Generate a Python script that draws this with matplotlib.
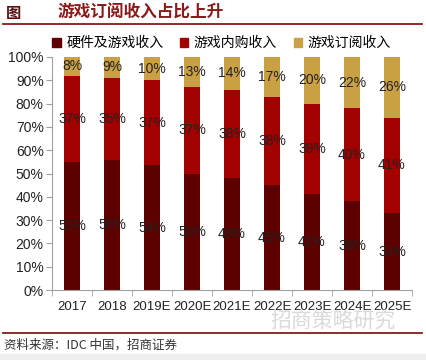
import numpy as np
import matplotlib.pyplot as plt
from matplotlib.patches import Patch, Rectangle
from matplotlib.lines import Line2D

plt.rcParams['font.family'] = ['Liberation Sans', 'Noto Sans CJK SC', 'DejaVu Sans']

# datos (%)
years = ["2017", "2018", "2019E", "2020E", "2021E", "2022E", "2023E", "2024E", "2025E"]
hardware = [55, 56, 54, 50, 48, 45, 41, 38, 33]
inapp = [37, 35, 37, 37, 38, 38, 39, 40, 41]
subs = [8, 9, 10, 13, 14, 17, 20, 22, 26]
series_names = ["硬件及游戏收入", "游戏内购收入", "游戏订阅收入"]
colors = ["#5c0000", "#a30000", "#c9a043"]

fig = plt.figure(figsize=(4.26, 3.6), dpi=100)
ax = fig.add_axes([52/426, 1-290/360, 360/426, 233/360])

x = np.arange(len(years))
vals = np.array([hardware, inapp, subs], dtype=float)
tot = vals.sum(axis=0)
heights = vals / tot * 100  # normalizado a 100%

bottom = np.zeros(len(years))
for k in range(3):
    ax.bar(x, heights[k], width=0.42, bottom=bottom, color=colors[k])
    for i in range(len(years)):
        ax.text(x[i], bottom[i] + heights[k][i] / 2, f"{int(vals[k][i])}%",
                ha="center", va="center", fontsize=10, color="#222222")
    bottom += heights[k]

ax.set_xlim(-0.5, len(years) - 0.5)
ax.set_ylim(0, 100)
ax.set_yticks(np.arange(0, 101, 10))
ax.set_yticklabels([f"{v}%" for v in range(0, 101, 10)], fontsize=10, color="#222222")
ax.set_xticks(x)
ax.set_xticklabels(years, fontsize=9.5, color="#222222")
ax.set_xticks(np.arange(-0.5, len(years)), minor=True)
ax.tick_params(axis="x", which="major", length=0, pad=8)
ax.tick_params(axis="x", which="minor", length=4, color="#a0a0a0")
ax.tick_params(axis="y", length=4, color="#a0a0a0", pad=2)
for s in ["top", "right"]:
    ax.spines[s].set_visible(False)
for s in ["left", "bottom"]:
    ax.spines[s].set_color("#a0a0a0")

# leyenda
handles = [Patch(color=c) for c in colors]
fig.legend(handles, series_names, loc="center", bbox_to_anchor=(0.52, 1-43/360), ncol=3,
           frameon=False, handlelength=0.6, handleheight=0.6, handletextpad=0.4,
           columnspacing=1.2, prop={"family": "Noto Sans CJK SC", "size": 10})

# titulo y lineas
fig.text(6/426, 1-13/360, "图", fontsize=11, family="Noto Sans CJK SC",
         color="#5a1010", va="center", weight="bold")
fig.text(58/426, 1-13/360, "游戏订阅收入占比上升", fontsize=12, family="Noto Sans CJK SC",
         color="#8b1a1a", va="center", weight="bold")
fig.add_artist(Line2D([3/426, 422/426], [1-24/360, 1-24/360], color="#8b1a1a", lw=1.3))
fig.add_artist(Line2D([3/426, 422/426], [1-333/360, 1-333/360], color="#8b1a1a", lw=1.3))

# marca de agua
fig.text(270/426, 1-321/360, "招商策略研究", fontsize=15, family="Noto Sans CJK SC",
         color="#dadada", va="center", zorder=0)

# fuente
fig.add_artist(Rectangle((0, 0), 1, 6/360, transform=fig.transFigure,
                         color="#eeeeee", zorder=0))
fig.text(4/426, 1-345/360, "资料来源：IDC 中国，招商证券", fontsize=9,
         family="Noto Sans CJK SC", color="#333333", va="center")

fig.savefig("out.png", dpi=100)
